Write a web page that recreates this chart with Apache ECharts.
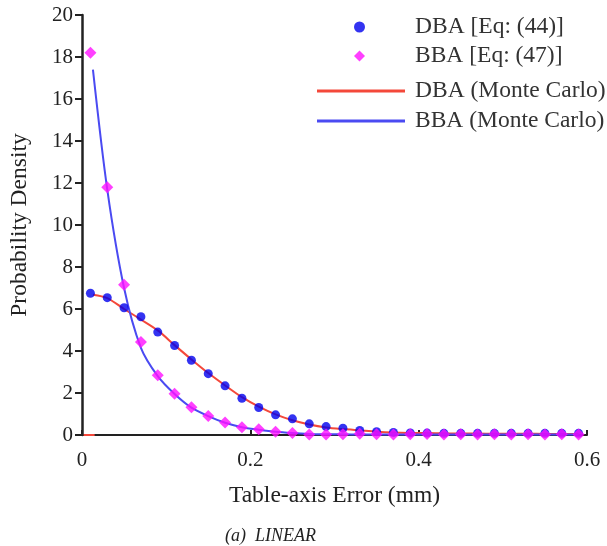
<!DOCTYPE html>
<html>
<head>
<meta charset="utf-8">
<script src="https://cdn.jsdelivr.net/npm/echarts@6/dist/echarts.min.js"></script>
<style>html,body{margin:0;padding:0;background:#fff}#c{width:607px;height:546px}</style>
</head>
<body>
<div id="c"></div>
<script>
// ---- data ----
var xEq = [0.01,0.03,0.05,0.07,0.09,0.11,0.13,0.15,0.17,0.19,0.21,0.23,0.25,0.27,0.29,0.31,0.33,0.35,0.37,0.39,0.41,0.43,0.45,0.47,0.49,0.51,0.53,0.55,0.57,0.59];
var dbaEq = [6.75,6.54,6.06,5.63,4.90,4.26,3.56,2.92,2.34,1.75,1.31,0.96,0.77,0.53,0.40,0.32,0.22,0.16,0.12,0.10,0.09,0.08,0.08,0.08,0.08,0.08,0.08,0.08,0.08,0.08];
var bbaEq = [18.2,11.8,7.16,4.43,2.84,1.96,1.32,0.91,0.59,0.37,0.27,0.16,0.10,0.02,0.02,0.04,0.06,0.03,0.02,0.03,0.05,0.02,0.03,0.02,0.04,0.02,0.03,0.02,0.03,0.02];
var xMC = [0.013,0.03,0.05,0.07,0.09,0.11,0.13,0.15,0.17,0.19,0.21,0.23,0.25,0.27,0.29,0.31,0.33,0.35,0.37,0.39,0.41,0.43,0.45,0.47,0.49,0.51,0.53,0.55,0.57,0.59];
var dbaMC = [6.68,6.52,6.0,5.5,4.98,4.28,3.6,2.95,2.36,1.8,1.35,0.98,0.70,0.50,0.36,0.28,0.22,0.16,0.12,0.10,0.09,0.08,0.07,0.07,0.06,0.06,0.06,0.05,0.05,0.05];
var bbaMC = [17.4,11.7,7.0,4.15,2.8,1.95,1.3,0.9,0.58,0.37,0.25,0.15,0.09,0.05,0.03,0.03,0.02,0.02,0.02,0.02,0.02,0.02,0.02,0.02,0.02,0.02,0.02,0.02,0.02,0.02];
var dbaMCStubX = [0.002,0.015];
var dbaMCStubY = [0,0];
var names = ['DBA [Eq: (44)]','BBA [Eq: (47)]','DBA (Monte Carlo)','BBA (Monte Carlo)'];
var caption = '(a)  LINEAR';

function pairs(xs, ys){ return xs.map(function(x,i){ return [x, ys[i]]; }); }
var redData = pairs(dbaMCStubX, dbaMCStubY).concat([['-','-']]).concat(pairs(xMC, dbaMC));

var FONT = "'Liberation Serif', 'Times New Roman', serif";
var chart = echarts.init(document.getElementById('c'), null, {renderer:'canvas'});
chart.setOption({
  animation:false,
  backgroundColor:'#fff',
  textStyle:{fontFamily:FONT},
  title:{text:caption,left:220,top:522,textStyle:{fontFamily:FONT,fontStyle:'italic',fontWeight:'normal',fontSize:18,color:'#222'}},
  grid:{left:82,right:20,top:15,bottom:111,containLabel:false},
  legend:[{
    data:[{name:names[0],icon:'circle'},{name:names[1],icon:'diamond'}],
    orient:'vertical',left:349,top:10,itemWidth:11,itemHeight:11,itemGap:5,
    textStyle:{fontFamily:FONT,fontSize:23.5,color:'#333',lineHeight:22,padding:[0,0,0,45]}
  },{
    data:[{name:names[2],icon:'rect'},{name:names[3],icon:'rect'}],
    orient:'vertical',left:312,top:74,itemWidth:88,itemHeight:3,itemGap:6,
    textStyle:{fontFamily:FONT,fontSize:23.5,color:'#333',lineHeight:22,padding:[0,0,0,5]}
  }],
  xAxis:{type:'value',min:0,max:0.6,interval:0.2,
    name:'Table-axis Error (mm)',nameLocation:'middle',nameGap:49,
    nameTextStyle:{fontFamily:FONT,fontSize:23.5,color:'#222'},
    axisLine:{show:true,lineStyle:{color:'#222',width:2}},
    axisTick:{show:true,inside:true,length:5,lineStyle:{color:'#222',width:2}},
    axisLabel:{margin:15,fontFamily:FONT,fontSize:21,color:'#222',formatter:function(v){return String(v);}},
    splitLine:{show:false}},
  yAxis:{type:'value',min:0,max:20,interval:2,
    name:'Probability Density',nameLocation:'middle',nameGap:50,
    nameTextStyle:{fontFamily:FONT,fontSize:23.5,color:'#222'},
    axisLine:{show:true,lineStyle:{color:'#222',width:2.5}},
    axisTick:{show:true,inside:false,length:7,lineStyle:{color:'#222',width:2}},
    axisLabel:{margin:9,fontFamily:FONT,fontSize:21,color:'#222'},
    splitLine:{show:false}},
  series:[
    {name:names[2],type:'line',data:redData,smooth:0.3,symbol:'none',showSymbol:false,connectNulls:false,
      lineStyle:{color:'#f4483a',width:2},itemStyle:{color:'#f4483a'},z:2},
    {name:names[3],type:'line',data:pairs(xMC,bbaMC),smooth:0.3,symbol:'none',showSymbol:false,
      lineStyle:{color:'#4a4af2',width:2},itemStyle:{color:'#4a4af2'},z:2},
    {name:names[0],type:'scatter',data:pairs(xEq,dbaEq),symbol:'circle',symbolSize:9,
      itemStyle:{color:'#0000ee'},z:3},
    {name:names[1],type:'scatter',data:pairs(xEq,bbaEq),symbol:'diamond',symbolSize:12,
      itemStyle:{color:'#ff10ff'},z:4}
  ]
});
</script>
</body>
</html>
